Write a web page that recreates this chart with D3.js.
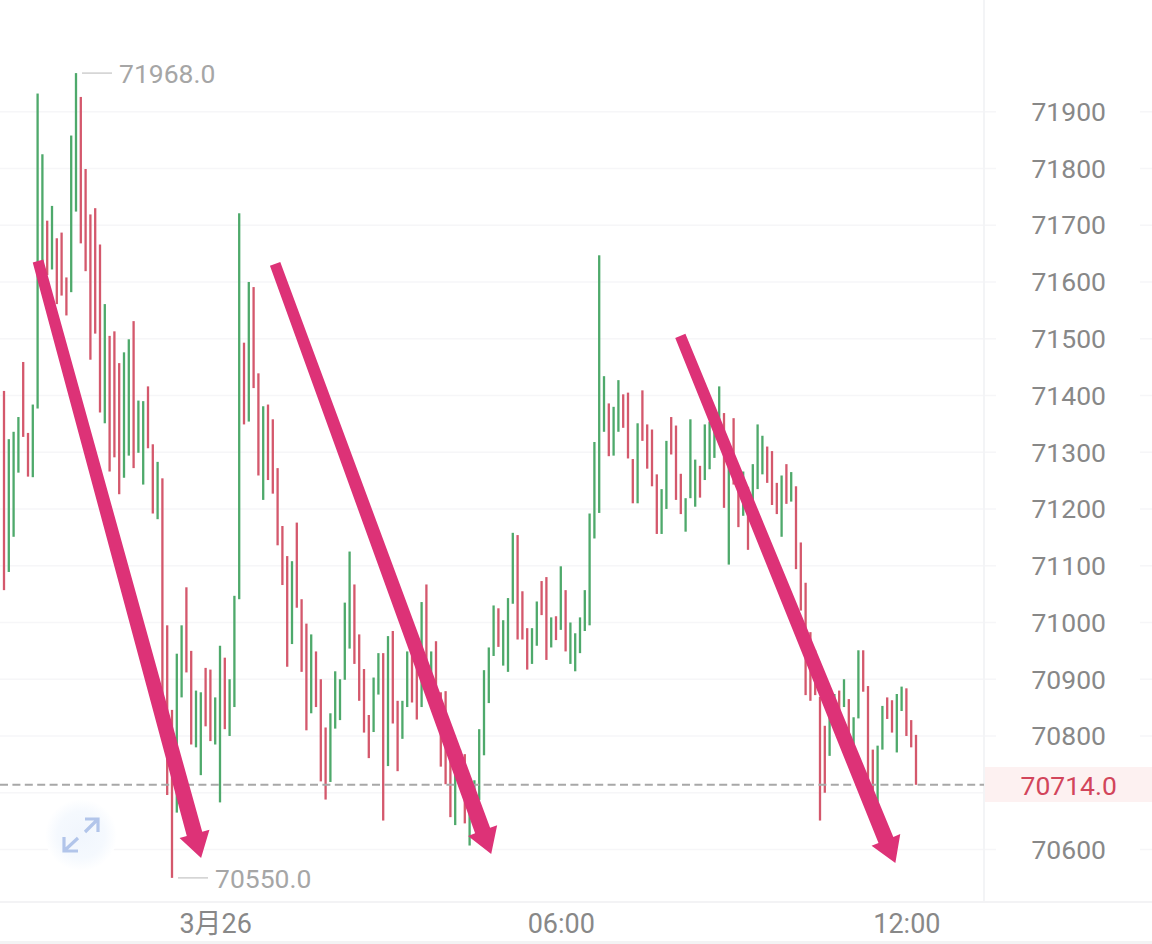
<!DOCTYPE html>
<html>
<head>
<meta charset="utf-8">
<script src="https://cdn.jsdelivr.net/npm/d3@7/dist/d3.min.js"></script>
<style>
html,body{margin:0;padding:0;background:#fff;overflow:hidden}
svg{display:block}
text{font-family:Roboto,"Noto Sans CJK SC",sans-serif}
</style>
</head>
<body>
<div id="chart"></div>
<script>
const highs = [
71408,71323,71336,71362,71459,71334,71384,71932,71825,71708,
71734,71677,71687,71608,71858,71968,71926,71799,71719,71730,
71666,71561,71505,71513,71457,71476,71499,71531,71391,71390,
71416,71314,71283,71254,70995,70846,70945,70995,71062,70950,
70880,70877,70920,70917,70868,70959,70938,70900,71047,71721,
71493,71600,71591,71439,71381,71384,71358,71272,71170,71117,
71108,71176,71041,70998,70979,70949,70900,70815,70840,70914,
70900,71035,71125,71067,70979,70918,70837,70903,70946,70946,
70976,70985,70862,70862,70949,70957,70940,71036,71067,70949,
70967,70877,70879,70758,70734,70776,70768,70682,70722,70812,
70916,70956,71030,71025,71004,71043,71158,71154,71055,70990,
70990,71037,71073,71080,71009,71011,71099,71057,71000,70981,
71009,71057,71192,71318,71647,71434,71386,71380,71427,71402,
71405,71288,71351,71409,71349,71340,71261,71235,71320,71362,
71347,71262,71219,71358,71287,71276,71349,71354,71339,71416,
71369,71274,71360,71274,71266,71239,71279,71349,71329,71310,
71302,71246,71259,71279,71265,71240,71141,71070,70983,70951,
70869,70818,70834,70874,70880,70900,70865,70833,70951,70951,
70888,70776,70783,70853,70868,70863,70874,70887,70884,70828,
70802];
const lows = [
71057,71089,71151,71264,71327,71257,71256,71377,71625,71612,
71622,71561,71576,71541,71582,71724,71668,71619,71463,71509,
71370,71351,71266,71291,71226,71255,71294,71272,71299,71243,
71307,71192,71182,70855,70696,70550,70665,70868,70912,70785,
70780,70731,70817,70791,70785,70683,70812,70800,70851,71041,
71349,71354,71413,71259,71216,71251,71227,71136,71066,70922,
70962,71026,70913,70810,70840,70851,70720,70688,70719,70813,
70828,70899,70954,70927,70862,70806,70761,70807,70873,70651,
70747,70822,70738,70795,70851,70859,70829,70851,70916,70893,
70876,70746,70715,70657,70643,70711,70646,70607,70684,70687,
70766,70858,70941,70957,70924,70913,71033,70970,70970,70917,
70927,70959,71013,70934,70956,70969,70987,70949,70927,70914,
70946,70985,70995,71148,71193,71336,71293,71294,71336,71343,
71289,71210,71210,71320,71271,71240,71156,71156,71200,71296,
71216,71191,71160,71219,71204,71220,71251,71270,71290,71345,
71202,71102,71243,71168,71188,71128,71204,71235,71261,71246,
71207,71191,71151,71209,71213,71094,71021,70872,70862,70872,
70651,70700,70765,70822,70840,70851,70805,70778,70831,70878,
70717,70693,70684,70776,70830,70806,70771,70844,70800,70780,
70714];
const directions = (
"rgggrrgggr"+"grrrggrrrr"+"rgrrrggrgg"+"rrgrrrggrr"+"ggrrggrggg"+
"rgrrgrrrrr"+"grrrgrrrgg"+"gggrrrrggr"+"grrggrrgrg"+"rrrrggrggg"+
"gggrgggrrr"+"ggrrgrgrgg"+"ggggggrggr"+"rrgrrrrggr"+"rrgggrgggg"+
"rgrrgrgggr"+"rrgrgrrrrr"+"rrggrgrggr"+"rrggrrggrrr").split("");

const gridPrices = [70600,70700,70800,70900,71000,71100,71200,71300,71400,71500,71600,71700,71800,71900];
const labelledPrices = [70600,70800,70900,71000,71100,71200,71300,71400,71500,71600,71700,71800,71900];
const timeTickIndex = [44,116,188];
const timeTickLabels = ["3月26","06:00","12:00"];
const lastPrice = 70714;
const peakMark = {index:15, price:71968, label:"71968.0"};
const troughMark = {index:35, price:70550, label:"70550.0"};
const arrowFromIndex = [7.09,56.48,140.9];
const arrowFromPrice = [71637,71632,71505];
const arrowToIndex = [41.06,101.5,185.7];
const arrowToPrice = [70585,70592,70576];

const W = 1152, H = 944, plotRight = 984, plotBottom = 902;
const GREEN = "#4ea96b", RED = "#d4586c", PINK = "#dd3277";

const x = d3.scaleLinear().domain([0,190]).range([4,916]);
const y = d3.scaleLinear().domain([70600,71900]).range([849.5,111.7]);

const svg = d3.select("#chart").append("svg").attr("width",W).attr("height",H);
const defs = svg.append("defs");
const grad = defs.append("radialGradient").attr("id","btn");
grad.append("stop").attr("offset","0%").attr("stop-color","#f1f6fd");
grad.append("stop").attr("offset","65%").attr("stop-color","#f5f9fe");
grad.append("stop").attr("offset","100%").attr("stop-color","#ffffff");

// grid
svg.append("g").selectAll("line").data(gridPrices).join("line")
  .attr("x1",0).attr("x2",W)
  .attr("y1",d=>y(d)).attr("y2",d=>y(d))
  .attr("stroke","#f6f6f8").attr("stroke-width",1.5);

// right panel
svg.append("rect").attr("x",996).attr("y",0).attr("width",144).attr("height",plotBottom).attr("fill","#fff");
svg.append("line").attr("x1",plotRight).attr("x2",plotRight).attr("y1",0).attr("y2",plotBottom)
  .attr("stroke","#f3f4f6").attr("stroke-width",2);
svg.append("line").attr("x1",0).attr("x2",W).attr("y1",plotBottom).attr("y2",plotBottom)
  .attr("stroke","#f3f3f5").attr("stroke-width",2);
svg.append("rect").attr("x",0).attr("y",941).attr("width",W).attr("height",3).attr("fill","#f3f3f4");

// expand button
const btn = svg.append("g");
btn.append("circle").attr("cx",81).attr("cy",835).attr("r",36).attr("fill","url(#btn)");
const icon = d3.path();
icon.moveTo(85,819); icon.lineTo(98,819); icon.lineTo(98,832);
icon.moveTo(98,819); icon.lineTo(85,832);
icon.moveTo(64,837); icon.lineTo(64,851); icon.lineTo(78,851);
icon.moveTo(64,851); icon.lineTo(78,838);
btn.append("path").attr("d",icon.toString()).attr("fill","none")
  .attr("stroke","#b2c5ea").attr("stroke-width",3.2);

// bars
svg.append("g").selectAll("rect").data(highs).join("rect")
  .attr("x",(d,i)=>x(i)-1.15)
  .attr("width",2.3)
  .attr("y",d=>y(d))
  .attr("height",(d,i)=>y(lows[i])-y(d))
  .attr("fill",(d,i)=>directions[i]==="g"?GREEN:RED);

// last price dashed line
svg.append("line").attr("x1",0).attr("x2",plotRight)
  .attr("y1",y(lastPrice)).attr("y2",y(lastPrice))
  .attr("stroke","#a8a8a8").attr("stroke-width",2).attr("stroke-dasharray","8 4.4");

// extremes
[peakMark,troughMark].forEach(m=>{
  const px = x(m.index), py = y(m.price);
  svg.append("line").attr("x1",px+6).attr("x2",px+36).attr("y1",py).attr("y2",py)
    .attr("stroke","#cfcfcf").attr("stroke-width",1.5);
  svg.append("text").attr("x",px+43).attr("y",py+3).attr("dominant-baseline","middle")
    .attr("font-size",26.5).attr("fill","#a6a6a6").text(m.label);
});

// axes
const yAxis = d3.axisRight(y).tickValues(labelledPrices).tickSize(0).tickPadding(0).tickFormat(d3.format("d"));
const yG = svg.append("g").attr("transform","translate(1068.7,0.3)").call(yAxis);
yG.select(".domain").remove();
yG.selectAll("text").attr("text-anchor","middle").attr("font-size",26.5).attr("fill","#888888")
  .attr("font-family",'Roboto,"Noto Sans CJK SC",sans-serif');

const xAxis = d3.axisBottom(x).tickValues(timeTickIndex).tickSize(0).tickPadding(0)
  .tickFormat((d,i)=>timeTickLabels[i]);
const xG = svg.append("g").attr("transform","translate(0,914)").call(xAxis);
xG.select(".domain").remove();
xG.selectAll("text").attr("font-size",27).attr("fill","#888888")
  .attr("font-family",'Roboto,"Noto Sans CJK SC",sans-serif');

// last price badge
svg.append("rect").attr("x",plotRight+1).attr("y",767).attr("width",W-plotRight).attr("height",35).attr("fill","#fdf1f1");
svg.append("text").attr("x",1068.7).attr("y",y(lastPrice)+3).attr("text-anchor","middle")
  .attr("dominant-baseline","middle").attr("font-size",26.5).attr("fill","#d2455b").text(lastPrice.toFixed(1));

// annotation arrows (shaft widens slightly toward the head)
const arrows = svg.append("g");
arrowFromIndex.forEach((_,k)=>{
  const x0=x(arrowFromIndex[k]), y0=y(arrowFromPrice[k]), x1=x(arrowToIndex[k]), y1=y(arrowToPrice[k]);
  const len=Math.hypot(x1-x0,y1-y0), ux=(x1-x0)/len, uy=(y1-y0)/len, nx=-uy, ny=ux;
  const headLen=25, headHalf=15.5, tailHalf=5.5, neckHalf=8, bx=x1-ux*headLen, by=y1-uy*headLen;
  arrows.append("path").attr("fill",PINK).attr("d",d3.line()([
    [x0+nx*tailHalf,y0+ny*tailHalf],
    [bx+nx*neckHalf,by+ny*neckHalf],
    [bx+nx*headHalf,by+ny*headHalf],
    [x1,y1],
    [bx-nx*headHalf,by-ny*headHalf],
    [bx-nx*neckHalf,by-ny*neckHalf],
    [x0-nx*tailHalf,y0-ny*tailHalf]
  ])+"Z");
});
</script>
</body>
</html>
